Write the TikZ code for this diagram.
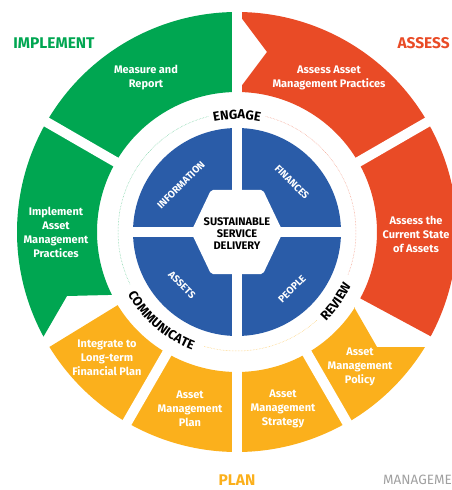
\documentclass[tikz,border=0pt]{standalone}
\usepackage{fontspec}
\setmainfont{Fira Sans}
\usetikzlibrary{decorations.text}
\definecolor{imgreen}{RGB}{0,166,81}
\definecolor{asred}{RGB}{233,75,38}
\definecolor{plorange}{RGB}{251,176,28}
\definecolor{hubblue}{RGB}{42,92,168}
\definecolor{mgrey}{RGB}{160,160,160}
\newcommand{\arcfont}{\bfseries\fontsize{13}{13}\selectfont}
\tikzset{
    segg/.style = {fill=imgreen},
    segr/.style = {fill=asred},
    sego/.style = {fill=plorange},
    gapline/.style = {line width=10pt, white},
    ringline/.style = {line width=0.5pt, densely dotted},
    seglabel/.style = {align=center, text=white, inner sep=0pt, font=\bfseries\fontsize{11}{14}\selectfont},
    quadlabel/.style = {text=white, inner sep=0pt, font=\bfseries\fontsize{10}{10}\selectfont},
    phaselabel/.style = {inner sep=0pt, font=\bfseries\fontsize{15.5}{15.5}\selectfont},
    arclabel/.style = {decorate, decoration={text along path, text align=center, text={|\arcfont|#1}}}
}

\begin{document}
\begin{tikzpicture}[x=1pt, y=1pt]
  \useasboundingbox (-237,-258) rectangle (214,232);
  % outer ring
  \fill[segg] (150:140pt) -- (150:220pt) arc[start angle=150, end angle=90, radius=220pt] -- (90:140pt) arc[start angle=90, end angle=150, radius=140pt] -- cycle;
  \fill[segr] (90:140pt) -- (30,180) -- (90:220pt) arc[start angle=90, end angle=30, radius=220pt] -- (30:140pt) arc[start angle=30, end angle=90, radius=140pt] -- cycle;
  \fill[segr] (30:140pt) -- (30:220pt) arc[start angle=30, end angle=-28.3, radius=220pt] -- (-28.3:140pt) arc[start angle=-28.3, end angle=30, radius=140pt] -- cycle;
  \fill[sego] (117,-75) -- (140,-115) -- (188,-115) arc[start angle=-31.45, end angle=-60, radius=220pt] -- (-60:140pt) arc[start angle=-60, end angle=-32.7, radius=140pt] -- cycle;
  \fill[sego] (-60:140pt) -- (-60:220pt) arc[start angle=-60, end angle=-90, radius=220pt] -- (-90:140pt) arc[start angle=-90, end angle=-60, radius=140pt] -- cycle;
  \fill[sego] (-90:140pt) -- (-90:220pt) arc[start angle=-90, end angle=-120, radius=220pt] -- (-120:140pt) arc[start angle=-120, end angle=-90, radius=140pt] -- cycle;
  \fill[sego] (-120:140pt) -- (-120:220pt) arc[start angle=-120, end angle=-148.5, radius=220pt] -- (-148.5:140pt) arc[start angle=-148.5, end angle=-120, radius=140pt] -- cycle;
  \fill[segg] (150:140pt) -- (150:220pt) arc[start angle=150, end angle=208.4, radius=220pt] -- (-170,-64) -- (206.7:140pt) arc[start angle=206.7, end angle=150, radius=140pt] -- cycle;
  \foreach \a in {150,90,30,-60,-90,-120}
    \draw[gapline] (\a:128pt) -- (\a:232pt);
  % thin ring
  \draw[ringline, imgreen!60] (104:119pt) arc[start angle=104, end angle=206, radius=119pt];
  \draw[ringline, asred!60] (76:119pt) arc[start angle=76, end angle=-21, radius=119pt];
  \draw[ringline, plorange!70] (-48:119pt) arc[start angle=-48, end angle=-106, radius=119pt];
  \path[arclabel=ENGAGE] (150:113pt) arc[start angle=150, end angle=30, radius=113pt];
  \path[arclabel=COMMUNICATE] (180:126pt) arc[start angle=180, end angle=279, radius=126pt];
  \path[arclabel=REVIEW] (280:126pt) arc[start angle=280, end angle=370, radius=126pt];
  % hub
  \fill[hubblue] (0,0) circle[radius=104pt];
  \draw[gapline] (0,-110) -- (0,110);
  \draw[gapline] (-110,0) -- (110,0);
  \fill[white, rounded corners=2pt] (-46,0) -- (-26,42) -- (26,42) -- (46,0) -- (26,-42) -- (-26,-42) -- cycle;
  \node[align=center, inner sep=0pt, font=\bfseries\fontsize{11}{12}\selectfont] (hub) at (0,-2) {SUSTAINABLE\\SERVICE\\DELIVERY};
  \node[quadlabel, rotate=45] (info) at (-56,47) {INFORMATION};
  \node[quadlabel, rotate=-45] (finances) at (55,50) {FINANCES};
  \node[quadlabel, rotate=-45] (assets) at (-55,-53) {ASSETS};
  \node[quadlabel, rotate=45] (people) at (55,-57) {PEOPLE};
  % segment labels
  \node[seglabel] (measure) at (-91,154) {Measure and\\Report};
  \node[seglabel] (practices) at (92,154) {Assess Asset\\Management Practices};
  \node[seglabel] (state) at (179,-2) {Assess the\\Current State\\of Assets};
  \node[seglabel] (policy) at (123,-135) {Asset\\Management\\Policy};
  \node[seglabel] (strategy) at (46,-177) {Asset\\Management\\Strategy};
  \node[seglabel] (amplan) at (-47,-177) {Asset\\Management\\Plan};
  \node[seglabel] (integrate) at (-130,-126) {Integrate to\\Long-term\\Financial Plan};
  \node[seglabel] (implementap) at (-181,0) {Implement\\Asset\\Management\\Practices};
  % phase labels
  \node[phaselabel, text=imgreen] (implement) at (-183,189) {IMPLEMENT};
  \node[phaselabel, text=asred, anchor=east] (assess) at (213,189) {ASSESS};
  \node[phaselabel, text=plorange] (plan) at (0,-248) {PLAN};
  \node[inner sep=0pt, anchor=west, text=mgrey, font=\fontsize{13.5}{13.5}\selectfont] (manage) at (146,-248) {MANAGEME};
\end{tikzpicture}
\end{document}
